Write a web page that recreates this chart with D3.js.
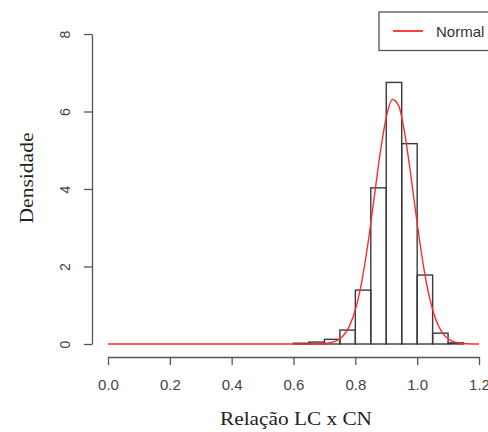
<!DOCTYPE html>
<html><head><meta charset="utf-8">
<script src="https://cdn.jsdelivr.net/npm/d3@7"></script>
<style>
html,body{margin:0;padding:0;background:#fff;}
svg{display:block;}
</style></head>
<body>
<svg id="chart" width="488" height="432"></svg>
<script>
// Histogram bins (left edges) and densities
const binStarts = [0.60, 0.65, 0.70, 0.75, 0.80, 0.85, 0.90, 0.95, 1.00, 1.05, 1.10];
const binDensity = [0.02, 0.05, 0.12, 0.36, 1.39, 4.03, 6.75, 5.17, 1.78, 0.28, 0.03];
const binWidth = 0.05;
// Normal curve points
const curveX = [0.00, 0.40, 0.60, 0.65, 0.70, 0.72, 0.74, 0.76, 0.78, 0.80, 0.82, 0.84, 0.86, 0.88, 0.90, 0.92, 0.94, 0.96, 0.98, 1.00, 1.02, 1.04, 1.06, 1.08, 1.10, 1.12, 1.14, 1.16, 1.18, 1.20];
const curveY = [0.00, 0.00, 0.00, 0.001, 0.011, 0.032, 0.085, 0.205, 0.448, 0.884, 1.578, 2.548, 3.717, 4.905, 5.849, 6.31, 6.153, 5.425, 4.325, 3.117, 2.031, 1.196, 0.637, 0.307, 0.134, 0.053, 0.019, 0.006, 0.0015, 0.0003];
const xTicks = [0.0, 0.2, 0.4, 0.6, 0.8, 1.0, 1.2];
const yTicks = [0, 2, 4, 6, 8];
const legendLabel = "Normal";
const xTitle = "Relação LC x CN";
const yTitle = "Densidade";

const svg = d3.select("#chart");
const x = d3.scaleLinear().domain([0, 1.2]).range([108, 479]);
const y = d3.scaleLinear().domain([0, 8]).range([344, 34]);

// bars
svg.append("g").selectAll("rect").data(binStarts).join("rect")
  .attr("x", d => x(d))
  .attr("width", d => x(d + binWidth) - x(d))
  .attr("y", (d, i) => y(binDensity[i]))
  .attr("height", (d, i) => y(0) - y(binDensity[i]))
  .attr("fill", "none")
  .attr("stroke", "#3a3a3a")
  .attr("stroke-width", 1.4);

// normal curve
const pts = curveX.map((v, i) => [v, curveY[i]]);
svg.append("path").datum(pts)
  .attr("d", d3.line().x(d => x(d[0])).y(d => y(d[1])).curve(d3.curveMonotoneX))
  .attr("fill", "none").attr("stroke", "#ff2b2b").attr("stroke-width", 1.4);

// x axis
const gx = svg.append("g").attr("transform", "translate(0,357)")
  .call(d3.axisBottom(x).tickValues(xTicks).tickFormat(d3.format(".1f")).tickSize(8).tickSizeOuter(0));
gx.select(".domain").attr("stroke", "#555").attr("stroke-width", 1.3);
gx.selectAll(".tick line").attr("stroke", "#555").attr("stroke-width", 1.3);
gx.selectAll(".tick text").attr("y", 33).attr("dy", null)
  .attr("font-family", "Liberation Sans, Arial, sans-serif").attr("font-size", 15).attr("fill", "#444");

// y axis
const gy = svg.append("g").attr("transform", "translate(92,0)")
  .call(d3.axisLeft(y).tickValues(yTicks).tickFormat(d3.format("d")).tickSize(8).tickSizeOuter(0));
gy.select(".domain").attr("stroke", "#555").attr("stroke-width", 1.3);
gy.selectAll(".tick line").attr("stroke", "#555").attr("stroke-width", 1.3);
gy.selectAll(".tick text").attr("x", null).attr("dy", null).attr("text-anchor", "middle")
  .attr("transform", "translate(-22,0) rotate(-90)")
  .attr("font-family", "Liberation Sans, Arial, sans-serif").attr("font-size", 14).attr("fill", "#444");

// titles
svg.append("text").attr("x", 296).attr("y", 425).attr("text-anchor", "middle")
  .attr("font-family", "Liberation Serif, Times New Roman, serif").attr("font-size", 19)
  .attr("textLength", 152).attr("lengthAdjust", "spacingAndGlyphs")
  .attr("fill", "#222").text(xTitle);
svg.append("text").attr("transform", "translate(33,178) rotate(-90)").attr("text-anchor", "middle")
  .attr("font-family", "Liberation Serif, Times New Roman, serif").attr("font-size", 19)
  .attr("textLength", 91).attr("lengthAdjust", "spacingAndGlyphs")
  .attr("fill", "#222").text(yTitle);

// legend
const lg = svg.append("g");
lg.append("rect").attr("x", 379).attr("y", 12).attr("width", 130).attr("height", 38.5)
  .attr("fill", "#fff").attr("stroke", "#555").attr("stroke-width", 1.3);
lg.append("line").attr("x1", 393).attr("x2", 423).attr("y1", 31).attr("y2", 31)
  .attr("stroke", "#ff2b2b").attr("stroke-width", 1.8);
lg.append("text").attr("x", 436).attr("y", 36.5)
  .attr("font-family", "Liberation Sans, Arial, sans-serif").attr("font-size", 15)
  .attr("fill", "#333").text(legendLabel);
</script>
</body></html>
